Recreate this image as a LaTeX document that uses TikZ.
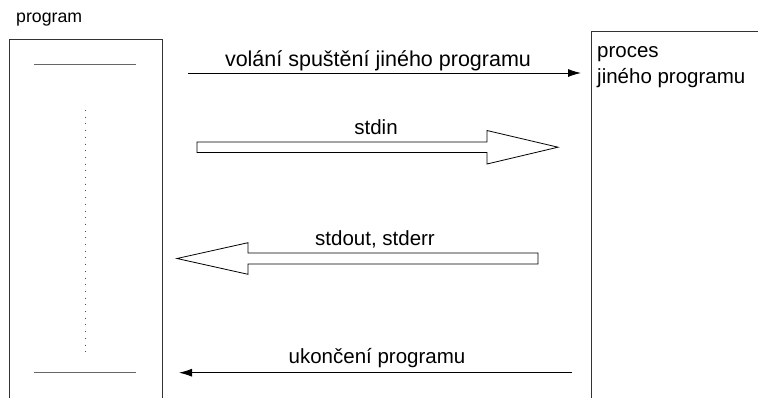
\documentclass[tikz,border=0pt]{standalone}
\usepackage{fontspec}
\setmainfont{Liberation Sans}
\usetikzlibrary{arrows.meta}
\begin{document}
\begin{tikzpicture}[x=1pt,y=-1pt,
  lbl/.style={font=\fontsize{20.5}{25}\selectfont, inner sep=0pt, anchor=base},
  boxframe/.style={draw=black!80, line width=0.9pt, inner sep=0pt, anchor=north west},
  inline/.style={draw=black!60, line width=1pt},
  conn/.style={draw=black, line width=0.9pt, -{Latex[length=13pt,width=8pt]}},
  fat/.style={draw=black, line width=0.8pt, fill=white, line join=miter}]
\useasboundingbox (0,0) rectangle (758,397);
\clip (0,0) rectangle (758,397);
% boxes
\node[boxframe, minimum width=153pt, minimum height=420pt] (prog) at (9,39) {};
\node[boxframe, minimum width=220pt, minimum height=420pt] (proc) at (591,31) {};
\node[lbl, font=\fontsize{17.7}{21}\selectfont, anchor=base west] (progtitle) at (16,22) {program};
\node[lbl, anchor=base west] (proct1) at (597,57) {proces};
\node[lbl, anchor=base west] (proct2) at (597,83) {jiného programu};
% inner lines of program box
\coordinate (l1a) at (34,64.5); \coordinate (l1b) at (136,64.5);
\coordinate (l2a) at (34,372.5); \coordinate (l2b) at (136,372.5);
\draw[inline] (l1a) -- (l1b);
\draw[inline] (l2a) -- (l2b);
\coordinate (dta) at (85,110); \coordinate (dtb) at (85,352);
\draw[black!70, line width=1pt, dash pattern=on 1pt off 5.7pt] (dta) -- (dtb);
% call arrow
\coordinate (c1s) at (188,73); \coordinate (c1e) at (581,73);
\draw[conn] (c1s) -- (c1e);
\node[lbl, font=\fontsize{21.5}{25}\selectfont] (t1) at (378,66) {volání spuštění jiného programu};
% stdin block arrow
\draw[fat] (197,142) -- (487,142) -- (487,130.5) -- (558,147.2) -- (487,164) -- (487,152.5) -- (197,152.5) -- cycle;
\node[lbl] (t2) at (376,134) {stdin};
% stdout block arrow
\draw[fat] (538,253) -- (248,253) -- (248,242.7) -- (177,258.5) -- (248,274.3) -- (248,264) -- (538,264) -- cycle;
\node[lbl] (t3) at (375,245) {stdout, stderr};
% exit arrow
\coordinate (c4s) at (572,372.7); \coordinate (c4e) at (179,372.7);
\draw[conn] (c4s) -- (c4e);
\node[lbl] (t4) at (377,363) {ukončení programu};
\end{tikzpicture}
\end{document}
